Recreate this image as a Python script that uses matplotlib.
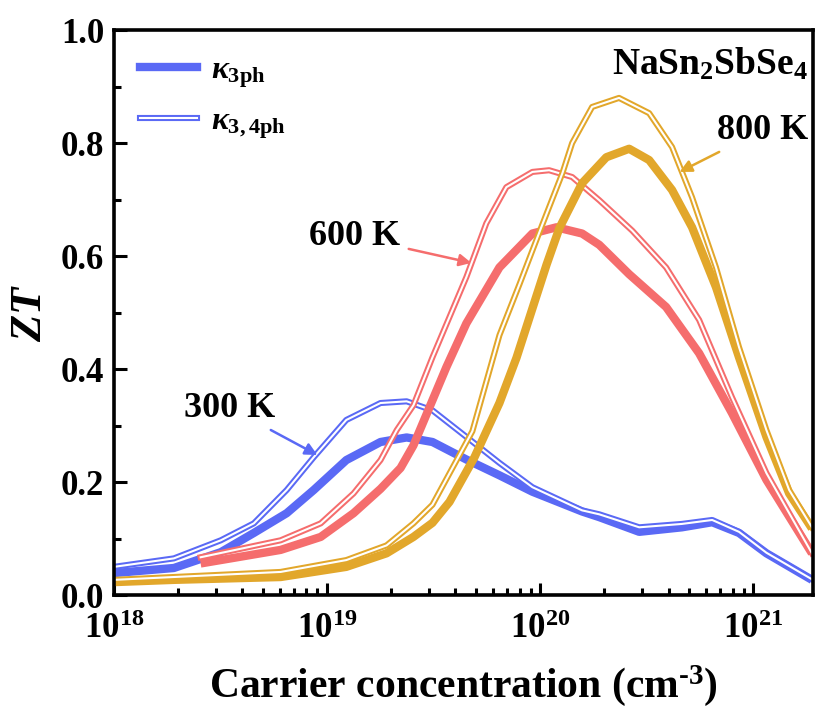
import matplotlib
matplotlib.use('Agg')
from matplotlib import pyplot as plt
from matplotlib.lines import Line2D
from matplotlib.ticker import MultipleLocator, LogLocator, NullFormatter

plt.rcParams['font.family'] = 'Liberation Serif'
plt.rcParams['font.weight'] = 'bold'
plt.rcParams['mathtext.fontset'] = 'custom'
plt.rcParams['mathtext.rm'] = 'Liberation Serif:bold'
plt.rcParams['mathtext.bf'] = 'Liberation Serif:bold'
plt.rcParams['mathtext.it'] = 'Liberation Serif:italic:bold'

# 300 K
n_300_3ph = [1.00e18, 1.91e18, 3.17e18, 4.53e18, 6.46e18, 8.65e18, 1.23e19, 1.78e19, 2.36e19,
             3.12e19, 4.50e19, 6.43e19, 9.18e19, 1.57e20, 1.89e20, 2.91e20, 4.62e20, 6.40e20,
             8.55e20, 1.15e21, 1.88e21]
zt_300_3ph = [0.039, 0.048, 0.076, 0.110, 0.145, 0.186, 0.239, 0.271, 0.279,
              0.271, 0.240, 0.212, 0.183, 0.148, 0.138, 0.112, 0.120, 0.129,
              0.110, 0.074, 0.027]
n_300_34ph = [1.00e18, 1.91e18, 3.17e18, 4.53e18, 6.46e18, 8.65e18, 1.23e19, 1.78e19, 2.36e19,
              3.12e19, 4.50e19, 6.43e19, 9.18e19, 1.57e20, 1.89e20, 2.91e20, 4.62e20, 6.40e20,
              8.55e20, 1.15e21, 1.88e21]
zt_300_34ph = [0.050, 0.065, 0.097, 0.127, 0.186, 0.244, 0.310, 0.340, 0.343,
               0.327, 0.280, 0.234, 0.191, 0.150, 0.143, 0.120, 0.126, 0.133,
               0.112, 0.075, 0.028]

# 600 K
n_600_3ph = [2.55e18, 3.53e18, 6.05e18, 9.33e18, 1.33e19, 1.78e19, 2.21e19, 2.54e19, 3.12e19,
             3.63e19, 4.50e19, 6.43e19, 9.18e19, 1.19e20, 1.57e20, 1.89e20, 2.61e20, 3.89e20,
             5.56e20, 7.93e20, 1.15e21, 1.88e21]
zt_600_3ph = [0.056, 0.065, 0.080, 0.103, 0.145, 0.188, 0.225, 0.265, 0.345,
              0.404, 0.481, 0.580, 0.640, 0.651, 0.640, 0.620, 0.568, 0.510,
              0.428, 0.322, 0.204, 0.074]
n_600_34ph = [2.55e18, 6.05e18, 9.33e18, 1.33e19, 1.78e19, 2.12e19, 2.54e19, 3.12e19, 4.50e19,
              5.58e19, 6.93e19, 9.18e19, 1.10e20, 1.41e20, 1.89e20, 2.70e20, 3.89e20, 5.56e20,
              7.93e20, 1.15e21, 1.88e21]
zt_600_34ph = [0.067, 0.097, 0.127, 0.180, 0.239, 0.292, 0.336, 0.421, 0.563,
               0.658, 0.722, 0.749, 0.752, 0.740, 0.699, 0.645, 0.580, 0.487,
               0.350, 0.216, 0.074]

# 800 K
n_800_3ph = [1.00e18, 1.91e18, 6.05e18, 1.23e19, 1.90e19, 2.54e19, 3.12e19, 3.75e19, 4.91e19,
             6.43e19, 7.73e19, 1.07e20, 1.23e20, 1.57e20, 2.04e20, 2.61e20, 3.24e20, 4.15e20,
             5.15e20, 6.67e20, 8.55e20, 1.15e21, 1.47e21, 1.88e21]
zt_800_3ph = [0.023, 0.027, 0.032, 0.050, 0.074, 0.103, 0.128, 0.165, 0.244,
              0.340, 0.420, 0.585, 0.650, 0.729, 0.775, 0.790, 0.770, 0.717,
              0.651, 0.545, 0.421, 0.280, 0.180, 0.118]
n_800_34ph = [1.00e18, 6.05e18, 1.23e19, 1.90e19, 2.54e19, 3.12e19, 4.80e19, 6.43e19, 7.98e19,
              1.02e20, 1.27e20, 1.41e20, 1.75e20, 2.34e20, 3.24e20, 4.15e20, 5.15e20, 6.67e20,
              8.55e20, 1.15e21, 1.47e21, 1.88e21]
zt_800_34ph = [0.027, 0.041, 0.062, 0.088, 0.127, 0.160, 0.290, 0.460, 0.550,
               0.655, 0.747, 0.800, 0.864, 0.880, 0.853, 0.793, 0.704, 0.580,
               0.439, 0.292, 0.186, 0.120]

blue, red, gold = '#5A69F5', '#F56D6D', '#E2A72B'

fig = plt.figure(figsize=(8.17, 7.17), dpi=100)
ax = fig.add_axes([0.1395, 0.170, 0.8555, 0.788])

for n3, z3, n34, z34, c in [(n_300_3ph, zt_300_3ph, n_300_34ph, zt_300_34ph, blue),
                            (n_600_3ph, zt_600_3ph, n_600_34ph, zt_600_34ph, red),
                            (n_800_3ph, zt_800_3ph, n_800_34ph, zt_800_34ph, gold)]:
    ax.plot(n3, z3, '-', color=c, lw=6.0, solid_capstyle='butt', solid_joinstyle='round')
    # hollow line: coloured outline with a white core
    ax.plot(n34, z34, '-', color=c, lw=4.4, solid_joinstyle='round')
    ax.plot(n34, z34, '-', color='white', lw=1.5, solid_joinstyle='round')

ax.set_xscale('log')
ax.set_xlim(1e18, 1.9e21)
ax.set_ylim(0, 1.0)
ax.yaxis.set_major_locator(MultipleLocator(0.2))
ax.yaxis.set_minor_locator(MultipleLocator(0.1))
ax.yaxis.set_major_formatter(plt.FormatStrFormatter('%.1f'))
ax.xaxis.set_minor_locator(LogLocator(base=10, subs=range(2, 10)))
ax.xaxis.set_minor_formatter(NullFormatter())
ax.tick_params(which='both', direction='in', top=False, right=False, width=2.2)
ax.tick_params(which='major', length=9, labelsize=25)
ax.tick_params(axis='x', which='major', pad=13)
ax.tick_params(axis='y', which='major', pad=7)
ax.tick_params(which='minor', length=5)
for s in ax.spines.values():
    s.set_linewidth(2.6)

ax.set_xlabel(r'Carrier concentration (cm$^{\text{-}3}$)', fontsize=30, fontweight='bold', labelpad=12)
ax.set_ylabel('$ZT$', fontsize=32, labelpad=8)

h1 = Line2D([], [], color=blue, lw=6.0)
h2a = Line2D([], [], color=blue, lw=4.4)
h2b = Line2D([], [], color='white', lw=1.5)
ax.legend([h1, (h2a, h2b)], [r'$\kappa_{\mathrm{3ph}}$', r'$\kappa_{\mathrm{3,4ph}}$'],
          loc='upper left', frameon=False, fontsize=23, handlelength=1.8,
          borderaxespad=0.3, labelspacing=0.55, handletextpad=0.45, borderpad=0.5)

ax.text(0.993, 0.94, r'NaSn$_2$SbSe$_4$', transform=ax.transAxes, ha='right', va='center',
        fontsize=27, fontweight='bold')

arrow = dict(arrowstyle='-|>', lw=1.8, mutation_scale=18, shrinkA=4, shrinkB=0)
ax.annotate('300 K', xy=(9.0e18, 0.248), xytext=(3.5e18, 0.331), ha='center', va='center',
            fontsize=26, fontweight='bold', arrowprops=dict(arrow, color=blue))
ax.annotate('600 K', xy=(4.75e19, 0.588), xytext=(1.35e19, 0.634), ha='center', va='center',
            fontsize=26, fontweight='bold', arrowprops=dict(arrow, color=red))
ax.annotate('800 K', xy=(4.5e20, 0.749), xytext=(1.1e21, 0.823), ha='center', va='center',
            fontsize=26, fontweight='bold', arrowprops=dict(arrow, color=gold))

fig.savefig('out.png', dpi=100)
